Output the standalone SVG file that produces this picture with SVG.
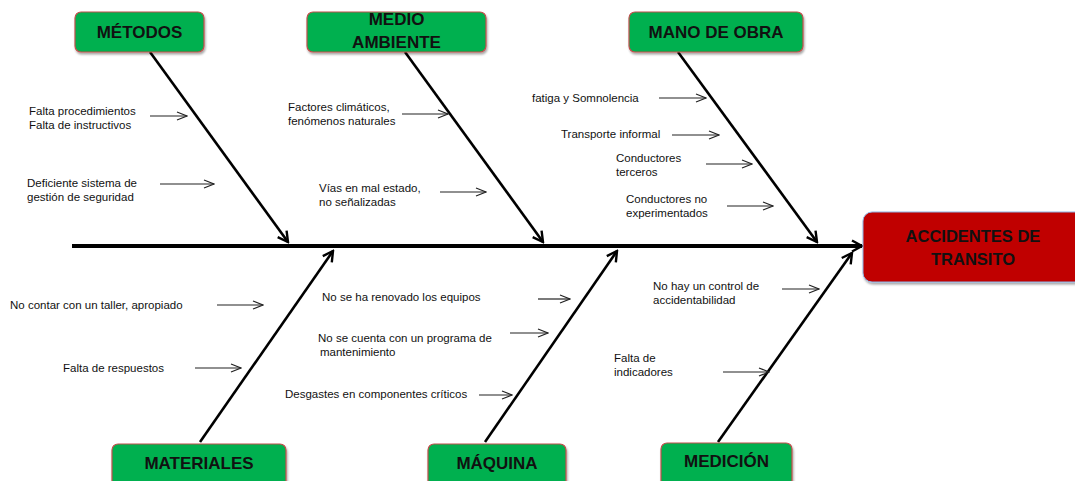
<svg xmlns="http://www.w3.org/2000/svg" width="1075" height="481" viewBox="0 0 1075 481">
<style>
.box{fill:#00B050;stroke:#C0504D;stroke-width:1.2}
.res{fill:#C00000;stroke:#8EB4E3;stroke-width:1}
.h{font-family:"Liberation Sans",Arial,sans-serif;font-weight:bold;font-size:17px;fill:#111;text-anchor:middle}
.t{font-family:"Liberation Sans",Arial,sans-serif;font-size:11.5px;fill:#111}
.thin{stroke:#222;stroke-width:1.2;fill:none;marker-end:url(#oa)}
.bone{stroke:#000;stroke-width:2.6;fill:none;marker-end:url(#ba)}
</style>
<defs>
<marker id="oa" markerWidth="12" markerHeight="10" refX="11" refY="5" orient="auto" markerUnits="userSpaceOnUse">
<polyline points="1,1 11,5 1,9" fill="none" stroke="#222" stroke-width="1.2"/>
</marker>
<marker id="ba" markerWidth="14" markerHeight="14" refX="12" refY="7" orient="auto" markerUnits="userSpaceOnUse">
<polyline points="2,1.5 12,7 2,12.5" fill="none" stroke="#000" stroke-width="2.4"/>
</marker>
<filter id="sh" x="-10%" y="-10%" width="120%" height="130%">
<feDropShadow dx="1" dy="2" stdDeviation="1.2" flood-color="#000" flood-opacity="0.35"/>
</filter>
</defs>
<g id="connectors">
<line x1="72" y1="246" x2="862" y2="246" stroke="#000" stroke-width="4" marker-end="url(#ba)"/>
<line class="bone" x1="150" y1="52" x2="288" y2="242"/>
<line class="bone" x1="405" y1="52" x2="543" y2="242"/>
<line class="bone" x1="678" y1="52" x2="817" y2="242"/>
<line class="bone" x1="200" y1="442" x2="333" y2="251"/>
<line class="bone" x1="485" y1="442" x2="617" y2="251"/>
<line class="bone" x1="718" y1="442" x2="852" y2="253"/>
<line class="thin" x1="150" y1="116" x2="187" y2="116"/>
<line class="thin" x1="160" y1="184" x2="214" y2="184"/>
<line class="thin" x1="402" y1="114" x2="448" y2="114"/>
<line class="thin" x1="440" y1="192" x2="486" y2="192"/>
<line class="thin" x1="659" y1="98" x2="706" y2="98"/>
<line class="thin" x1="672" y1="135" x2="719" y2="135"/>
<line class="thin" x1="706" y1="164" x2="752" y2="164"/>
<line class="thin" x1="727" y1="206" x2="773" y2="206"/>
<line class="thin" x1="217" y1="305" x2="263" y2="305"/>
<line class="thin" x1="195" y1="368" x2="241" y2="368"/>
<line class="thin" x1="538" y1="299" x2="570" y2="299"/>
<line class="thin" x1="510" y1="333" x2="548" y2="333"/>
<line class="thin" x1="479" y1="395" x2="512" y2="395"/>
<line class="thin" x1="782" y1="289" x2="819" y2="289"/>
<line class="thin" x1="723" y1="372" x2="769" y2="372"/>
</g>
<g id="metodos">
<rect class="box" x="75" y="12" width="129" height="40" rx="6" filter="url(#sh)"/>
<text class="h" x="139.5" y="38">MÉTODOS</text>
</g>
<g id="medio-ambiente">
<rect class="box" x="307" y="12" width="179" height="40" rx="6" filter="url(#sh)"/>
<text class="h" x="396.5" y="25">MEDIO</text>
<text class="h" x="396.5" y="48">AMBIENTE</text>
</g>
<g id="mano-de-obra">
<rect class="box" x="629" y="12" width="174" height="40" rx="6" filter="url(#sh)"/>
<text class="h" x="716" y="38">MANO DE OBRA</text>
</g>
<g id="materiales">
<rect class="box" x="112" y="444" width="174" height="44" rx="6" filter="url(#sh)"/>
<text class="h" x="199" y="469">MATERIALES</text>
</g>
<g id="maquina">
<rect class="box" x="428" y="444" width="138" height="44" rx="6" filter="url(#sh)"/>
<text class="h" x="497" y="469">MÁQUINA</text>
</g>
<g id="medicion">
<rect class="box" x="661" y="443" width="131" height="44" rx="6" filter="url(#sh)"/>
<text class="h" x="726.5" y="467">MEDICIÓN</text>
</g>
<g id="resultado">
<rect class="res" x="863" y="212" width="222" height="70" rx="9" filter="url(#sh)"/>
<text class="h" x="973" y="242" style="font-size:16.5px">ACCIDENTES DE</text>
<text class="h" x="973" y="265" style="font-size:16.5px">TRANSITO</text>
</g>
<g id="causas">
<text class="t" x="29" y="115">Falta procedimientos</text>
<text class="t" x="29" y="129">Falta de instructivos</text>
<text class="t" x="27" y="187">Deficiente sistema de</text>
<text class="t" x="27" y="201">gestión de seguridad</text>
<text class="t" x="288" y="111">Factores climáticos,</text>
<text class="t" x="288" y="125">fenómenos naturales</text>
<text class="t" x="319" y="192">Vías en mal estado,</text>
<text class="t" x="319" y="206">no señalizadas</text>
<text class="t" x="532" y="102">fatiga y Somnolencia</text>
<text class="t" x="561" y="138">Transporte informal</text>
<text class="t" x="616" y="162">Conductores</text>
<text class="t" x="616" y="176">terceros</text>
<text class="t" x="626" y="203">Conductores no</text>
<text class="t" x="626" y="217">experimentados</text>
<text class="t" x="10" y="309">No contar con un taller, apropiado</text>
<text class="t" x="63" y="372">Falta de respuestos</text>
<text class="t" x="322" y="301">No se ha renovado los equipos</text>
<text class="t" x="318" y="342">No se cuenta con un programa de</text>
<text class="t" x="320" y="356">mantenimiento</text>
<text class="t" x="285" y="398">Desgastes en componentes críticos</text>
<text class="t" x="653" y="290">No hay un control de</text>
<text class="t" x="653" y="304">accidentabilidad</text>
<text class="t" x="614" y="362">Falta de</text>
<text class="t" x="614" y="376">indicadores</text>
</g>
</svg>
